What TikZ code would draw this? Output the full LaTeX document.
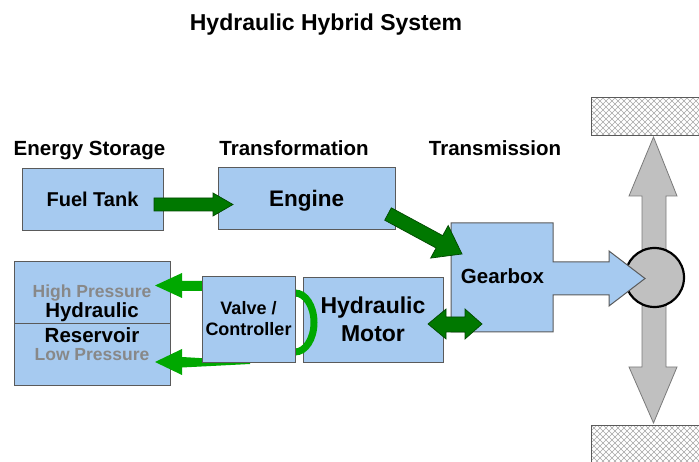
\documentclass[tikz,border=0pt]{standalone}
\usepackage{fontspec}
\setmainfont{Liberation Sans}
\definecolor{boxblue}{HTML}{A6CAF0}
\definecolor{boxline}{HTML}{5A5A5A}
\definecolor{darkgreen}{HTML}{007800}
\definecolor{darkgreenline}{HTML}{004800}
\definecolor{brightgreen}{HTML}{00A800}
\definecolor{axlegray}{HTML}{C0C0C0}
\definecolor{axleline}{HTML}{7A7A7A}
\definecolor{labelgray}{HTML}{888888}
\definecolor{hatchgray}{HTML}{A8A8A8}

\begin{document}
\begin{tikzpicture}[x=1pt,y=-1pt,
  block/.style={draw=boxline, fill=boxblue, line width=1pt, rectangle,
    inner sep=0pt, outer sep=0pt, anchor=north west},
  powerarrow/.style={draw=darkgreenline, fill=darkgreen, line width=0.7pt, line join=miter},
  fluidarrow/.style={fill=brightgreen},
  axlearrow/.style={draw=axleline, fill=axlegray, line width=0.8pt, line join=miter},
  txt/.style={inner sep=0pt, anchor=base, font=\bfseries\fontsize{#1pt}{#1pt}\selectfont},
  road/.style={draw=boxline, line width=1pt},
]
\useasboundingbox (0,0) rectangle (699,462);

% ---- titles
\node[txt=23] (title) at (326,31) {Hydraulic Hybrid System};
\node[txt=20.5] (hstore) at (89.5,156) {Energy Storage};
\node[txt=20.5] (htrans) at (294,156) {Transformation};
\node[txt=20.5] (hmiss) at (495,156) {Transmission};

% ---- road surfaces (cross-hatched)
\foreach \ya/\yb in {98/136, 425/480}{
  \begin{scope}
    \clip (591,\ya) rectangle (720,\yb);
    \fill[white] (591,\ya) rectangle (720,\yb);
    \foreach \c in {-300,-294,...,300}{
      \draw[hatchgray, line width=0.45pt] (591+\c,\ya) -- ++(200,200);
      \draw[hatchgray, line width=0.45pt] (591+\c,\ya) -- ++(-200,200);
    }
  \end{scope}
  \draw[road] (591,\ya) rectangle (720,\yb);
}

% ---- axle: vertical double arrow and hub
\draw[axlearrow] (653.5,137) -- (677,196) -- (666,196) -- (666,367) -- (677,367)
  -- (653.5,423) -- (629,367) -- (642,367) -- (642,196) -- (629,196) -- cycle;
\node[circle, draw=black, line width=2.2pt, fill=axlegray, minimum size=59pt,
  inner sep=0pt] (hub) at (654.5,277.5) {};

% ---- gearbox with its output arrow
\draw[draw=boxline, fill=boxblue, line width=1pt, line join=miter]
  (451,223) -- (553,223) -- (553,262) -- (609,262) -- (609,251) -- (645,278.5)
  -- (609,306) -- (609,295) -- (553,295) -- (553,332) -- (451,332) -- cycle;
\coordinate (gearbox) at (502,277.5);
\node[txt=20.5] (gearboxlabel) at (502.5,284) {Gearbox};

% ---- storage and engine
\node[block, minimum width=141pt, minimum height=62pt] (fuel) at (22,169) {};
\node[txt=20] (fuellabel) at (92.5,207) {Fuel Tank};
\node[block, minimum width=177pt, minimum height=62pt] (engine) at (218,168) {};
\node[txt=22.5] (enginelabel) at (306.5,207) {Engine};

% ---- hydraulic reservoir
\node[block, minimum width=156pt, minimum height=62pt] (highres) at (14,262) {};
\node[block, minimum width=156pt, minimum height=61pt] (lowres) at (14,324) {};
\node[txt=17.5, text=labelgray] (hplabel) at (92,298) {High Pressure};
\node[txt=20.5] (hydlabel) at (92,318) {Hydraulic};
\node[txt=20.5] (reslabel) at (92,343) {Reservoir};
\node[txt=17.5, text=labelgray] (lplabel) at (92,361) {Low Pressure};

% ---- hydraulic motor
\node[block, minimum width=140pt, minimum height=85pt] (motor) at (303,277.5) {};
\node[txt=23] (motorlabel1) at (373,314) {Hydraulic};
\node[txt=23] (motorlabel2) at (373,342) {Motor};

% ---- fluid paths from the valve
\draw[brightgreen, line width=7pt]
  (295,293) arc[start angle=-90, end angle=90, x radius=19, y radius=29.5];
\fill[fluidarrow] (250,361) -- (182,357) -- (182,349) -- (155,362) -- (182,375)
  -- (182,367.5) -- (250,364) -- cycle;
\fill[fluidarrow] (203,281) -- (182,281) -- (182,273) -- (155,285.5) -- (182,298)
  -- (182,291) -- (203,291) -- cycle;

% ---- valve
\node[block, minimum width=93pt, minimum height=86pt] (valve) at (202,277) {};
\node[txt=18] (valvelabel1) at (248.5,315) {Valve /};
\node[txt=18] (valvelabel2) at (248.5,336) {Controller};

% ---- mechanical power arrows
\draw[powerarrow] (154,198) -- (213,198) -- (213,193) -- (233,204.5) -- (213,216)
  -- (213,211) -- (154,211) -- cycle;
\draw[powerarrow] (384.7,220.2) -- (391.3,207.8) -- (442.7,235.6) -- (448.2,225.5)
  -- (462,254) -- (430.6,258.1) -- (436.1,248.0) -- cycle;
\draw[powerarrow] (428,324) -- (446,309) -- (446,317) -- (465,317) -- (465,309)
  -- (482,324) -- (465,339) -- (465,332) -- (446,332) -- (446,339) -- cycle;
\end{tikzpicture}
\end{document}
